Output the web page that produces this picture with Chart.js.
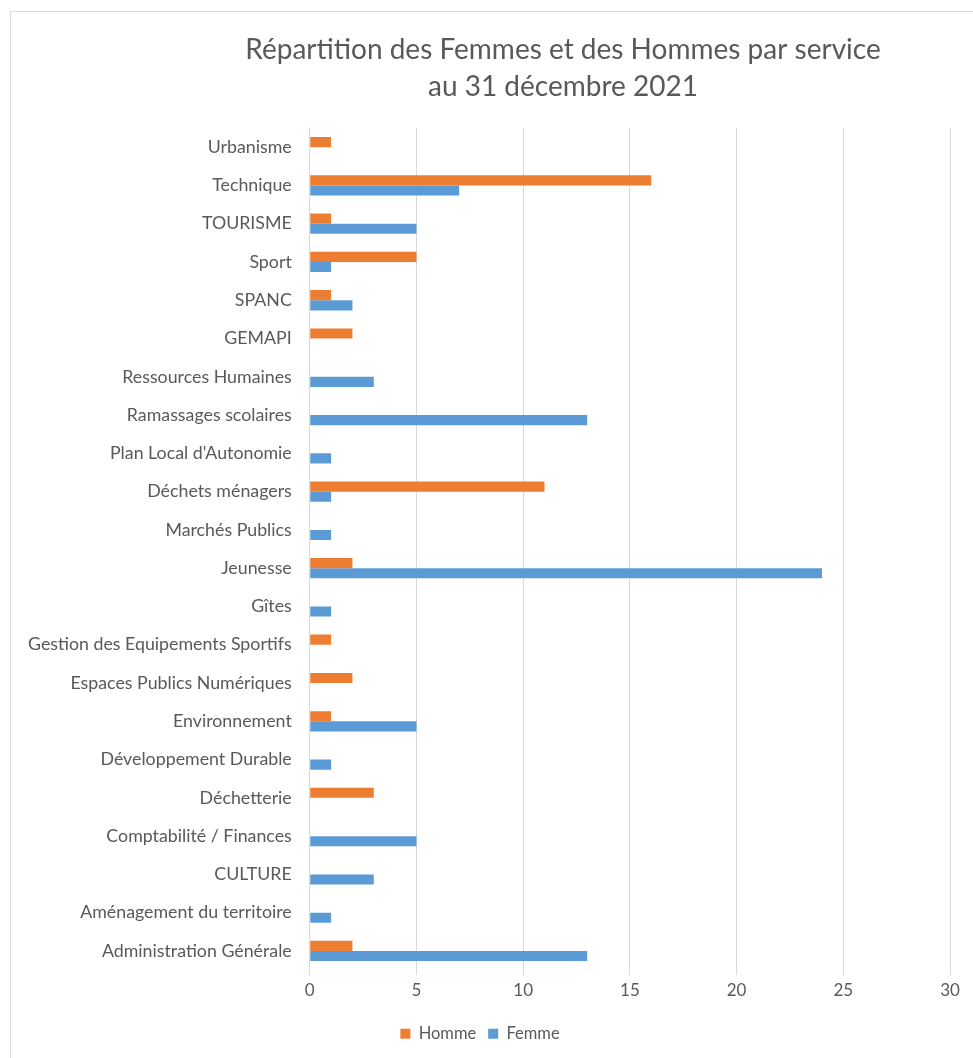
<!DOCTYPE html>
<html>
<head>
<meta charset="utf-8">
<script src="https://cdn.jsdelivr.net/npm/chart.js@4.4.1/dist/chart.umd.min.js"></script>
<style>
  html, body { margin: 0; padding: 0; background: #fff; overflow: hidden; }
  #frame {
    position: absolute; left: 10px; top: 11px; width: 980px; height: 1060px;
    border-left: 1px solid #dcdcdc; border-top: 1px solid #dcdcdc; box-sizing: border-box;
  }
  #wrap { position: absolute; left: 10px; top: 11px; width: 963px; height: 1047px; }
</style>
</head>
<body>
<div id="frame"></div>
<div id="wrap"><canvas id="myChart"></canvas></div>
<script>
// Services, du haut vers le bas
const services = [
    "Urbanisme", "Technique", "TOURISME", "Sport", "SPANC", "GEMAPI",
    "Ressources Humaines", "Ramassages scolaires", "Plan Local d'Autonomie",
    "Déchets ménagers", "Marchés Publics", "Jeunesse", "Gîtes",
    "Gestion des Equipements Sportifs", "Espaces Publics Numériques",
    "Environnement", "Développement Durable", "Déchetterie",
    "Comptabilité / Finances", "CULTURE", "Aménagement du territoire",
    "Administration Générale"
];
const hommes = [1, 16, 1, 5, 1, 2, 0, 0, 0, 11, 0, 2, 0, 1, 2, 1, 0, 3, 0, 0, 0, 2];
const femmes = [0, 7, 5, 1, 2, 0, 3, 13, 1, 1, 1, 24, 1, 0, 0, 5, 1, 0, 5, 3, 1, 13];
const titleLines = ["Répartition des Femmes et des Hommes par service", "au 31 décembre 2021"];

const grey = "#595959";
const fontFamily = "Lato, 'Open Sans', sans-serif";

// Titre placé comme dans l'original (un peu à droite du centre)
const titlePlugin = {
    id: "titreDecale",
    afterDraw(chart) {
        const ctx = chart.ctx;
        ctx.save();
        ctx.fillStyle = grey;
        ctx.font = "28px " + fontFamily;
        ctx.textAlign = "center";
        ctx.textBaseline = "middle";
        ctx.fillText(titleLines[0], 553, 39);
        ctx.fillText(titleLines[1], 553, 76);
        ctx.restore();
    }
};

const plot = document.getElementById("myChart").getContext("2d");
new Chart(plot, {
    type: "bar",
    data: {
        labels: services,
        datasets: [
            {
                label: "Homme",
                data: hommes,
                backgroundColor: "#ED7D31",
                categoryPercentage: 0.53,
                barPercentage: 1.0,
            },
            {
                label: "Femme",
                data: femmes,
                backgroundColor: "#5B9BD5",
                categoryPercentage: 0.53,
                barPercentage: 1.0,
            },
        ],
    },
    options: {
        indexAxis: "y",
        responsive: true,
        maintainAspectRatio: false,
        animation: false,
        layout: { padding: { top: 117, right: 23, bottom: 6, left: 0 } },
        plugins: {
            title: { display: false },
            tooltip: { enabled: false },
            legend: {
                position: "bottom",
                labels: {
                    color: grey,
                    font: { family: fontFamily, size: 16.5 },
                    boxWidth: 10,
                    boxHeight: 10,
                    padding: 12,
                },
            },
        },
        scales: {
            x: {
                min: 0,
                max: 30,
                ticks: {
                    stepSize: 5,
                    color: grey,
                    font: { family: fontFamily, size: 17 },
                    padding: 5,
                },
                grid: { color: "#d9d9d9", tickLength: 5 },
                border: { display: false },
                afterFit: (axis) => { axis.height += 8; }, // espace avant la légende
            },
            y: {
                ticks: {
                    color: grey,
                    font: { family: fontFamily, size: 17.8 },
                    padding: 18,
                    autoSkip: false,
                },
                grid: { display: false, drawTicks: false },
                border: { display: false },
            },
        },
    },
    plugins: [titlePlugin],
});
</script>
</body>
</html>
